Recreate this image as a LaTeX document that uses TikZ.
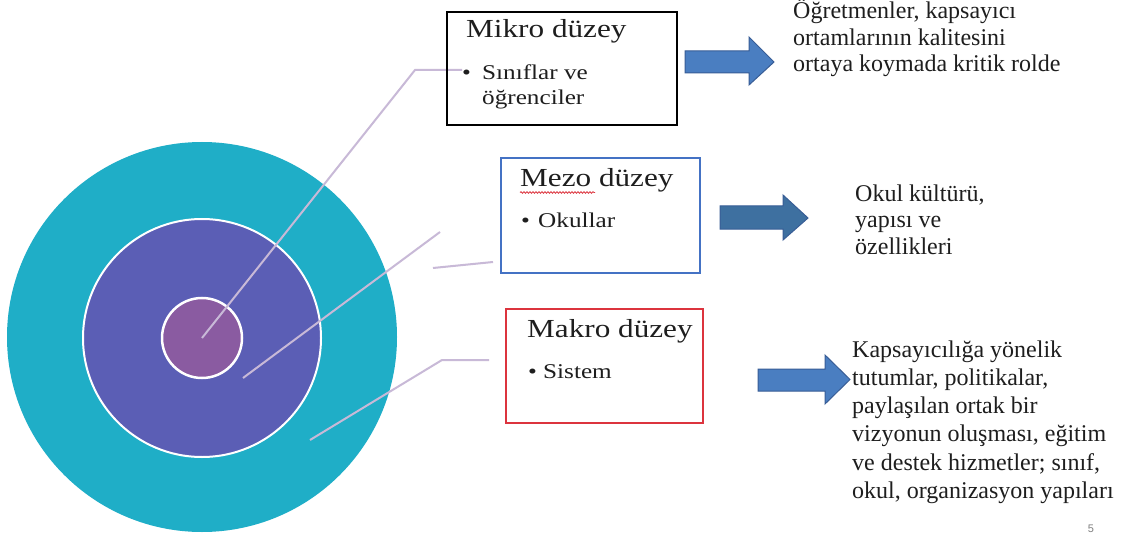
\documentclass[tikz,border=0pt]{standalone}
\usepackage{fontspec}
\setmainfont{Liberation Serif}
\newfontfamily\boxfont[FakeStretch=1.2]{Liberation Serif}
\newfontfamily\pagefont{Liberation Sans}
\usetikzlibrary{decorations.pathmorphing}
\definecolor{outerc}{RGB}{31,174,199}
\definecolor{middlec}{RGB}{91,94,181}
\definecolor{innerc}{RGB}{138,91,161}
\definecolor{leadc}{RGB}{200,185,215}
\definecolor{arrowc}{RGB}{74,126,193}
\definecolor{arrowdark}{RGB}{62,112,160}
\definecolor{arrowedge}{RGB}{56,93,150}
\definecolor{mezoc}{RGB}{68,114,196}
\definecolor{makroc}{RGB}{220,52,62}
\definecolor{txtc}{RGB}{30,30,30}
\begin{document}
\begin{tikzpicture}[x=1pt,y=-1pt,
  lead/.style={draw=leadc, line width=2pt},
  ring/.style={circle, inner sep=0pt},
  boxframe/.style={rectangle, inner sep=0pt},
  title/.style={font=\boxfont\fontsize{26}{30}\selectfont, text=txtc, anchor=base west, inner sep=0pt},
  item/.style={font=\boxfont\fontsize{21}{25}\selectfont, text=txtc, anchor=base west, inner sep=0pt, align=left},
  desc/.style={font=\fontsize{24}{26.5}\selectfont, text=txtc, anchor=base west, inner sep=0pt, align=left},
  blockarrow/.style={fill=arrowc, draw=arrowedge, line width=1pt, line join=miter}]

\useasboundingbox (0,0) rectangle (1140,540);
\fill[white] (0,0) rectangle (1140,540);

% concentric circles
\node[ring, fill=outerc, minimum size=390pt] (outer) at (202,337) {};
\node[ring, fill=middlec, draw=white, line width=2pt, minimum size=238pt] (middle) at (202,338) {};
\node[ring, fill=innerc, draw=white, line width=2.5pt, minimum size=80pt] (inner) at (202,338) {};

% leader lines
\coordinate (c1) at (415,70);
\coordinate (e1) at (462,70);
\draw[lead] (inner.center) -- (c1) -- (e1);

\coordinate (s2) at (243,378);
\coordinate (e2) at (440,232);
\draw[lead] (s2) -- (e2);
\coordinate (s2b) at (433,268);
\coordinate (e2b) at (493,262);
\draw[lead] (s2b) -- (e2b);

\coordinate (s3) at (310,440);
\coordinate (c3) at (442,360);
\coordinate (e3) at (489,360);
\draw[lead] (s3) -- (c3) -- (e3);

% boxes
\node[boxframe, draw=black, line width=2.2pt, minimum width=230pt, minimum height=113pt] (mikro) at (562,68.5) {};
\node[boxframe, draw=mezoc, line width=2pt, minimum width=199pt, minimum height=115pt] (mezo) at (600.5,215.5) {};
\node[boxframe, draw=makroc, line width=2pt, minimum width=197pt, minimum height=114pt] (makro) at (604.5,366) {};

% box texts (multi-line nodes are anchored at their last baseline)
\node[title] (mikroT) at (466,38) {Mikro düzey};
\node[item] (mikroD) at (462,80) {•};
\node[item] (mikroI) at (482,105) {Sınıflar ve\\öğrenciler};

\node[title] (mezoT) at (520,187) {Mezo düzey};
\node[item] (mezoD) at (521,227) {•};
\node[item] (mezoI) at (538,227) {Okullar};
\coordinate (w1) at (520,192.5);
\coordinate (w2) at (595,192.5);
\draw[makroc, line width=0.8pt, decorate, decoration={snake, amplitude=0.8pt, segment length=3pt}] (w1) -- (w2);

\node[title] (makroT) at (527,337) {Makro düzey};
\node[item] (makroD) at (528,378) {•};
\node[item] (makroI) at (543,378) {Sistem};

% block arrows
\draw[blockarrow] (685,51) -- (749,51) -- (749,37) -- (774,62) -- (749,85) -- (749,73) -- (685,73) -- cycle;
\draw[blockarrow, fill=arrowdark] (720,206) -- (783,206) -- (783,195) -- (808,218) -- (783,240) -- (783,229) -- (720,229) -- cycle;
\draw[blockarrow] (758,369) -- (825,369) -- (825,355) -- (850,379.5) -- (825,404) -- (825,391) -- (758,391) -- cycle;

% descriptions
\node[desc] (t1) at (793,72) {Öğretmenler, kapsayıcı\\ortamlarının kalitesini\\ortaya koymada kritik rolde};
\node[desc] (t2) at (855,254) {Okul kültürü,\\yapısı ve\\özellikleri};
\node[desc, font=\fontsize{24}{28.3}\selectfont] (t3) at (852,498.5) {Kapsayıcılığa yönelik\\tutumlar, politikalar,\\paylaşılan ortak bir\\vizyonun oluşması, eğitim\\ve destek hizmetler; sınıf,\\okul, organizasyon yapıları};

\node[font=\pagefont\fontsize{11}{13}\selectfont, text=gray, anchor=base] (pg) at (1091,532) {5};
\end{tikzpicture}
\end{document}
